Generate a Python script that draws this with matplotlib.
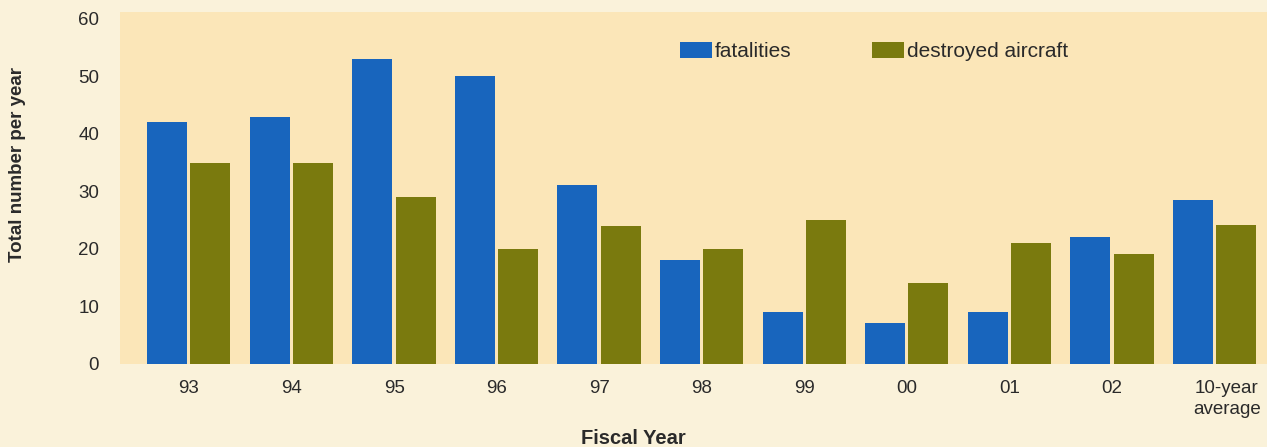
import matplotlib
matplotlib.use("Agg")
import matplotlib.pyplot as plt
import matplotlib.transforms as mtransforms
from matplotlib.patches import Patch
import numpy as np

plt.rcParams['font.family'] = ['Liberation Sans', 'DejaVu Sans']

# Fiscal-year mishap totals
categories = ["93", "94", "95", "96", "97", "98", "99", "00", "01", "02", "10-year\naverage"]
fatalities = [42, 43, 53, 50, 31, 18, 9, 7, 9, 22, 28.4]
destroyed_aircraft = [35, 35, 29, 20, 24, 20, 25, 14, 21, 19, 24.2]
y_ticks = [0, 10, 20, 30, 40, 50, 60]

BLUE = "#1865bd"
OLIVE = "#7a7a0e"
PANEL = "#fbe6b8"
PAPER = "#faf2da"
INK = "#2a2a2a"

fig = plt.figure(figsize=(12.67, 4.47), dpi=100, facecolor=PAPER)
ax = fig.add_axes([0.0947, 0.1868, 0.9053, 0.7862])
ax.set_facecolor(PANEL)

x = np.arange(len(categories))
width = 0.39
ax.bar(x - 0.213, fatalities, width, color=BLUE, label="fatalities")
ax.bar(x + 0.21, destroyed_aircraft, width, color=OLIVE, label="destroyed aircraft")

ax.set_xlim(-0.672, 10.51)
ax.set_ylim(0, 61.2)
ax.set_yticks(y_ticks)
ax.set_xticks(x)
ax.set_xticklabels(categories, fontsize=13.5, color=INK, linespacing=1.3, va="top")
ax.tick_params(axis="y", length=0, pad=15, labelsize=13.5, labelcolor=INK)
ax.tick_params(axis="x", length=0, pad=12)
for s in ax.spines.values():
    s.set_visible(False)

# nudge the two-line average label to the right
last = ax.get_xticklabels()[-1]
last.set_transform(last.get_transform() + mtransforms.ScaledTranslation(0.12, 0, fig.dpi_scale_trans))

ax.text(-0.089, 0.5676, "Total number per year", transform=ax.transAxes, rotation=90,
        ha="center", va="center", fontsize=13.5, fontweight="bold", color=INK)
ax.text(0.448, -0.214, "Fiscal Year", transform=ax.transAxes,
        ha="center", va="center", fontsize=14.5, fontweight="bold", color=INK)

handles = [Patch(facecolor=BLUE), Patch(facecolor=OLIVE)]
ax.legend(handles, ["fatalities", "destroyed aircraft"], ncol=2, frameon=False,
          loc="center left", bbox_to_anchor=(0.488, 0.888), fontsize=15,
          borderaxespad=0, borderpad=0,
          handlelength=1.54, handleheight=0.8, handletextpad=0.15, columnspacing=3.85,
          labelcolor=INK)

fig.savefig("out.png", dpi=100, facecolor=PAPER)
